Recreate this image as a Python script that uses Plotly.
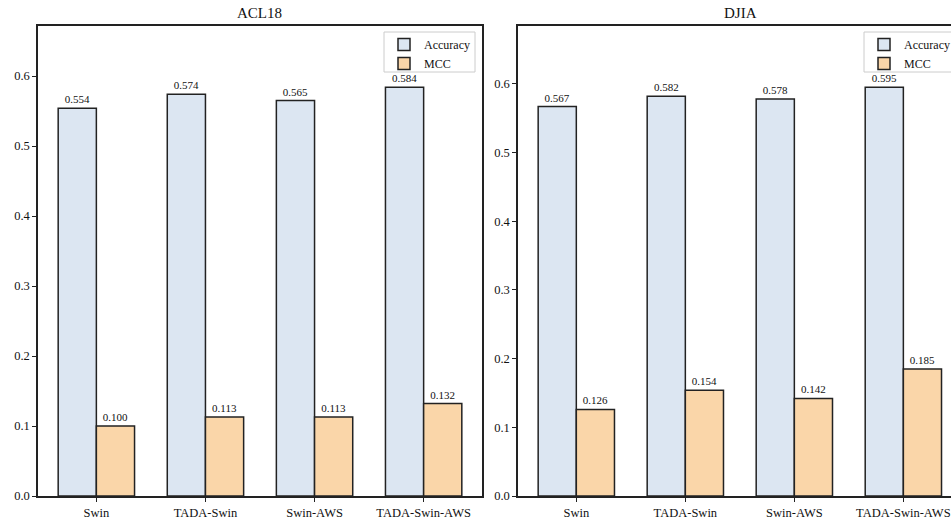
import plotly.graph_objects as go

models = ["Swin", "TADA-Swin", "Swin-AWS", "TADA-Swin-AWS"]
acl18_accuracy = [0.554, 0.574, 0.565, 0.584]
acl18_mcc = [0.100, 0.113, 0.113, 0.132]
djia_accuracy = [0.567, 0.582, 0.578, 0.595]
djia_mcc = [0.126, 0.154, 0.142, 0.185]
y_ticks = [0.0, 0.1, 0.2, 0.3, 0.4, 0.5, 0.6]

W, H = 951, 519
ACC_COLOR = "#dce6f2"
MCC_COLOR = "#fad6a9"
FONT = "Liberation Serif"
TOP, BOTTOM = 26, 23
PH = H - TOP - BOTTOM

fig = go.Figure()

def add_bars(acc, mcc, xa, ya, legend):
    fig.add_trace(go.Bar(x=models, y=acc, name="Accuracy", marker=dict(color=ACC_COLOR, line=dict(color="#222", width=1.5)),
                         texttemplate="%{y:.3f}", textposition="outside", cliponaxis=False,
                         textfont=dict(size=11, color="#111", family=FONT),
                         xaxis=xa, yaxis=ya, legend=legend, offsetgroup="a"))
    fig.add_trace(go.Bar(x=models, y=mcc, name="MCC", marker=dict(color=MCC_COLOR, line=dict(color="#222", width=1.5)),
                         texttemplate="%{y:.3f}", textposition="outside", cliponaxis=False,
                         textfont=dict(size=11, color="#111", family=FONT),
                         xaxis=xa, yaxis=ya, legend=legend, offsetgroup="b"))

add_bars(acl18_accuracy, acl18_mcc, "x", "y", "legend")
add_bars(djia_accuracy, djia_mcc, "x2", "y2", "legend2")

axis_common = dict(showline=True, linecolor="#222", linewidth=1.5, ticks="outside", ticklen=4,
                   tickcolor="#222", showgrid=False, zeroline=False,
                   tickfont=dict(family=FONT, size=12.5, color="#111"))

x1_left, x1_right = 38 / W, 482 / W
x2_left = 518 / W

legend_common = dict(xanchor="left", yanchor="top", bgcolor="rgba(255,255,255,0)",
                     borderwidth=0, font=dict(family=FONT, size=12, color="#111"),
                     tracegroupgap=0, itemwidth=30)

def py(px):
    return 1 - (px - TOP) / PH

legend_frames = [
    dict(type="rect", xref="paper", yref="paper", x0=384 / W, x1=475 / W, y0=py(72), y1=py(32),
         line=dict(color="#cccccc", width=1), fillcolor="white", layer="below"),
    dict(type="rect", xref="paper", yref="paper", x0=864 / W, x1=1.1, y0=py(72), y1=py(32),
         line=dict(color="#cccccc", width=1), fillcolor="white", layer="below"),
]

fig.update_layout(
    width=W, height=H,
    margin=dict(l=0, r=0, t=TOP, b=BOTTOM, autoexpand=False),
    plot_bgcolor="white", paper_bgcolor="white",
    barmode="group", bargap=0.3, bargroupgap=0,
    font=dict(family=FONT, color="#111"),
    uniformtext=dict(minsize=8, mode="show"),
    xaxis=dict(domain=[x1_left, x1_right], range=[-0.535, 3.535], mirror=True, anchor="y", **axis_common),
    yaxis=dict(domain=[0, 1], range=[0, 0.6716], tickvals=y_ticks, ticktext=[f"{v:.1f}" for v in y_ticks],
               mirror=True, anchor="x", **axis_common),
    xaxis2=dict(domain=[x2_left, 1], range=[-0.535, 3.437], mirror=True, anchor="y2", **axis_common),
    yaxis2=dict(domain=[0, 1], range=[0, 0.6843], tickvals=y_ticks, ticktext=[f"{v:.1f}" for v in y_ticks],
                mirror=False, anchor="x2", **axis_common),
    legend=dict(x=384 / W, y=py(30), **legend_common),
    legend2=dict(x=864 / W, y=py(30), **legend_common),
    shapes=legend_frames,
    annotations=[
        dict(text="ACL18", x=(x1_left + x1_right) / 2, y=1, xref="paper", yref="paper", xanchor="center",
             yanchor="bottom", yshift=3, showarrow=False, font=dict(family=FONT, size=15, color="#111")),
        dict(text="DJIA", x=740 / W, y=1, xref="paper", yref="paper", xanchor="center",
             yanchor="bottom", yshift=3, showarrow=False, font=dict(family=FONT, size=15, color="#111")),
    ],
)

fig.write_html("out.html", config={"displayModeBar": False},
               post_script="document.body.style.margin='0px';")
